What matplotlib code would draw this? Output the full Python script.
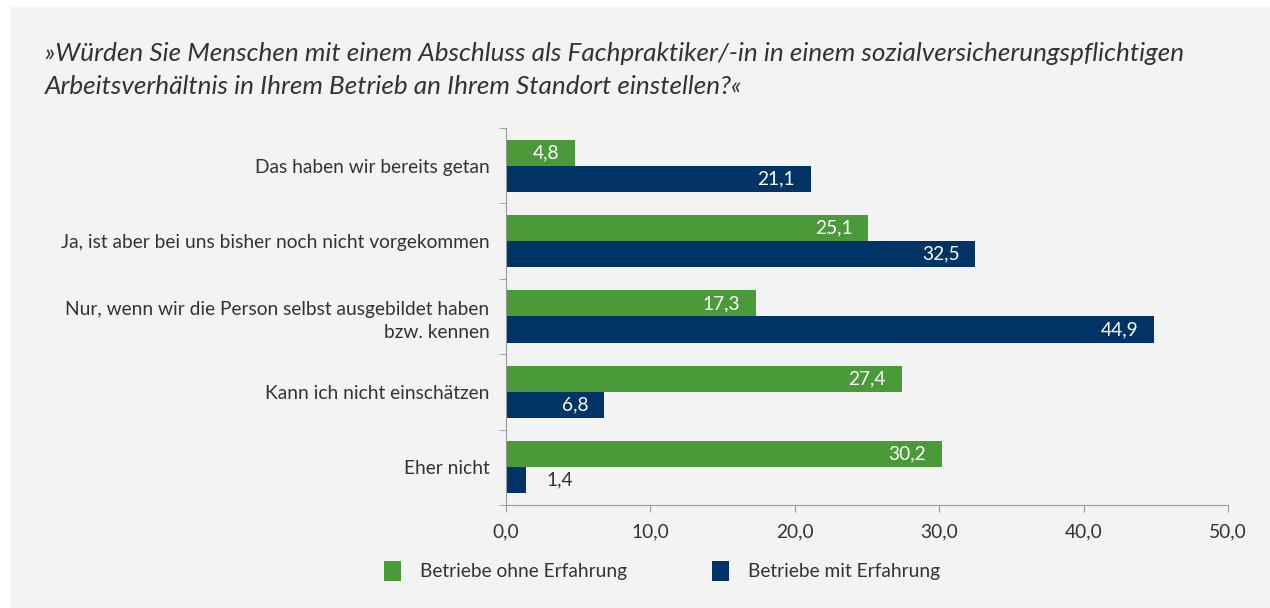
import numpy as np
import matplotlib.pyplot as plt
from matplotlib.patches import Rectangle

# Daten
categories = ["Das haben wir bereits getan",
              "Ja, ist aber bei uns bisher noch nicht vorgekommen",
              "Nur, wenn wir die Person selbst ausgebildet haben\nbzw. kennen",
              "Kann ich nicht einschätzen",
              "Eher nicht"]
ohne = [4.8, 25.1, 17.3, 27.4, 30.2]
mit = [21.1, 32.5, 44.9, 6.8, 1.4]
series_names = ["Betriebe ohne Erfahrung", "Betriebe mit Erfahrung"]
xticks = [0, 10, 20, 30, 40, 50]

green = '#4a9a3a'
navy = '#003366'
bg = '#f3f3f3'
txt = '#333333'

plt.rcParams['font.family'] = ['Lato', 'DejaVu Sans']

fig = plt.figure(figsize=(12.7, 6.08), dpi=100, facecolor=bg)
# weisser Rand oben/links
fig.patches.append(Rectangle((0, 0), 0.007, 1, transform=fig.transFigure, color='white', zorder=-1))
fig.patches.append(Rectangle((0, 0.99), 1, 0.01, transform=fig.transFigure, color='white', zorder=-1))

ax = fig.add_axes([506 / 1270, 1 - 505 / 608, 722 / 1270, 377 / 608])
ax.set_facecolor(bg)

y = np.arange(len(categories))
h = 0.345
b1 = ax.barh(y - h / 2, ohne, height=h, color=green, label=series_names[0])
b2 = ax.barh(y + h / 2, mit, height=h, color=navy, label=series_names[1])

fs = 13.8
for bars, vals in [(b1, ohne), (b2, mit)]:
    for bar, v in zip(bars, vals):
        lab = f"{v:.1f}".replace('.', ',')
        yc = bar.get_y() + bar.get_height() / 2
        if v > 3:
            ax.text(v - 1.1, yc, lab, ha='right', va='center', color='white', fontsize=fs)
        else:
            ax.text(v + 1.4, yc, lab, ha='left', va='center', color=txt, fontsize=fs)

ax.set_xlim(0, 50)
ax.set_ylim(len(categories) - 0.5, -0.5)
ax.set_xticks(xticks)
ax.set_xticklabels([f"{t:.1f}".replace('.', ',') for t in xticks], fontsize=fs, color=txt)
ax.set_yticks(y)
ax.set_yticklabels(categories, fontsize=fs, color=txt, linespacing=1.45)
ax.set_yticks(np.arange(len(categories) + 1) - 0.5, minor=True)
ax.tick_params(axis='y', which='major', length=0, pad=12)
ax.tick_params(axis='y', which='minor', length=5, color='#999999')
ax.tick_params(axis='x', length=5, color='#999999', pad=8)
for s in ['top', 'right']:
    ax.spines[s].set_visible(False)
for s in ['left', 'bottom']:
    ax.spines[s].set_color('#999999')

fig.text(45 / 1270, 1 - 70 / 608, "»Würden Sie Menschen mit einem Abschluss als Fachpraktiker/-in in einem sozialversicherungspflichtigen\nArbeitsverhältnis in Ihrem Betrieb an Ihrem Standort einstellen?«",
         fontsize=18.8, style='italic', color=txt, va='center', linespacing=1.55)

fig.legend(handles=[b1, b2], labels=series_names, loc='center', bbox_to_anchor=(662 / 1270, 1 - 571 / 608),
           ncol=2, frameon=False, fontsize=fs, handlelength=0.9, handleheight=1.3,
           columnspacing=4.4, handletextpad=1.0, labelcolor=txt)

fig.savefig('out.png', dpi=100, facecolor=bg)
